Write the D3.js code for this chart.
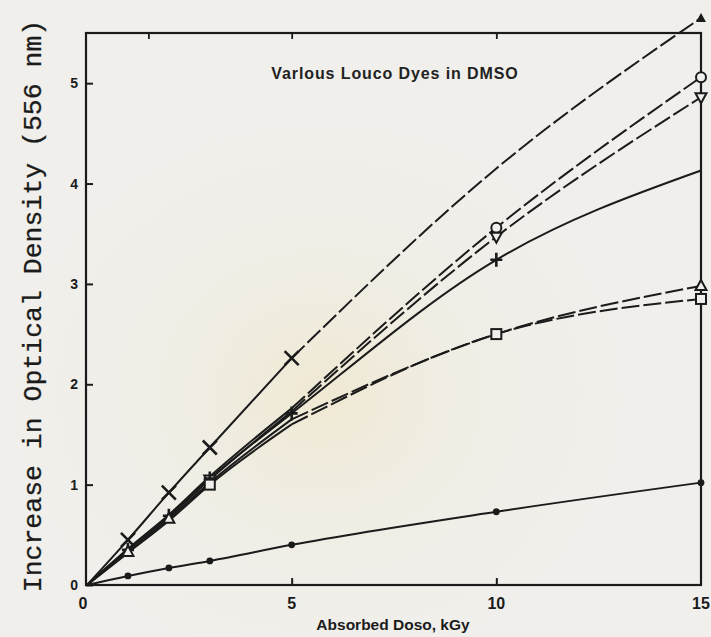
<!DOCTYPE html>
<html><head><meta charset="utf-8">
<script src="https://cdn.jsdelivr.net/npm/d3@7/dist/d3.min.js"></script>
<style>html,body{margin:0;padding:0;background:#f0efeb;}svg{display:block;}</style>
</head><body>
<svg id="chart" width="711" height="637"></svg>
<script>
// ---- data ----
const doses = [0, 1, 2, 3, 5, 10, 15];
const crossVals   = [0, 0.45, 0.92, 1.37, 2.26, 4.15, 5.65];
const circleVals  = [0, 0.36, 0.70, 1.08, 1.76, 3.56, 5.06];
const invTriVals  = [0, 0.35, 0.68, 1.05, 1.73, 3.47, 4.86];
const plusVals    = [0, 0.35, 0.69, 1.06, 1.71, 3.24, 4.13];
const triVals     = [0, 0.33, 0.66, 1.02, 1.65, 2.50, 2.98];
const squareVals  = [0, 0.32, 0.64, 1.00, 1.60, 2.50, 2.85];
const dotVals     = [0, 0.09, 0.17, 0.24, 0.40, 0.73, 1.02];
const xTicks = [0, 5, 10, 15];
const yTicks = [0, 1, 2, 3, 4, 5];
const titleText = "Varlous Louco Dyes in DMSO";
const xTitle = "Absorbed Doso, kGy";
const yTitle = "Increase in Optical Density (556 nm)";

const series = [
  {vals: crossVals,  sym: "cross",  marks: [1,2,3,4], endMark: "arrow", dashAfter: true},
  {vals: circleVals, sym: "circle", marks: [5,6], dashAfter: true},
  {vals: invTriVals, sym: "invtri", marks: [3,5,6], dashAfter: true},
  {vals: plusVals,   sym: "plus",   marks: [1,2,3,4,5], dashAfter: false},
  {vals: triVals,    sym: "tri",    marks: [1,2,6], dashAfter: true},
  {vals: squareVals, sym: "square", marks: [3,5,6], dashAfter: true},
  {vals: dotVals,    sym: "dot",    marks: [1,2,3,4,5,6], dashAfter: false}
];

const svg = d3.select("#chart");
const ink = "#1b1b1b";

// paper + faint watermark
const defs = svg.append("defs");
const rg = defs.append("radialGradient").attr("id","wm").attr("cx","0.45").attr("cy","0.62").attr("r","0.45");
rg.append("stop").attr("offset","0").attr("stop-color","#efe3bf").attr("stop-opacity",0.55);
rg.append("stop").attr("offset","1").attr("stop-color","#f0efeb").attr("stop-opacity",0);
svg.append("rect").attr("width",711).attr("height",637).attr("fill","#f0efeb");
svg.append("rect").attr("width",711).attr("height",637).attr("fill","url(#wm)");

const x = d3.scaleLinear().domain([0, 15]).range([87, 701]);
const y = d3.scaleLinear().domain([0, 5.5]).range([585, 33]);

// frame
const g = svg.append("g");
g.append("rect").attr("x", x(0) - 1).attr("y", y(5.5)).attr("width", x(15) - x(0) + 1).attr("height", y(0) - y(5.5))
  .attr("fill","none").attr("stroke",ink).attr("stroke-width",2.2);

// axes via d3 axis generators
const yAxis = d3.axisRight(y).tickValues(yTicks).tickSize(7).tickFormat("");
g.append("g").attr("transform",`translate(${x(0)-1},0)`).call(yAxis)
  .call(s => { s.select(".domain").remove(); s.selectAll("line").attr("stroke",ink).attr("stroke-width",2); });
g.selectAll(".ylab").data(yTicks).join("text")
  .attr("x", x(0) - 9).attr("y", d => y(d) + 5).attr("text-anchor","end")
  .attr("font-family","Liberation Sans, Arial, sans-serif").attr("font-weight","bold").attr("font-size",14)
  .attr("fill",ink).text(d => d === 0 ? "0" : d);

const xAxis = d3.axisTop(x).tickValues([5, 10]).tickSize(7).tickFormat("");
g.append("g").attr("transform",`translate(0,${y(0)})`).call(xAxis)
  .call(s => { s.select(".domain").remove(); s.selectAll("line").attr("stroke",ink).attr("stroke-width",2); });
const xTopAxis = d3.axisBottom(x).tickValues([1.5, 5, 10]).tickSize(6).tickFormat("");
g.append("g").attr("transform",`translate(0,${y(5.5)})`).call(xTopAxis)
  .call(s => { s.select(".domain").remove(); s.selectAll("line").attr("stroke",ink).attr("stroke-width",1.8); });
g.selectAll(".xlab").data(xTicks).join("text")
  .attr("x", d => x(d) + (d === 0 ? -4 : 0)).attr("y", y(0) + 24).attr("text-anchor","middle")
  .attr("font-family","Liberation Sans, Arial, sans-serif").attr("font-weight","bold").attr("font-size",16)
  .attr("fill",ink).text(d => d);

// titles
svg.append("text").attr("x", 393).attr("y", 630).attr("text-anchor","middle")
  .attr("font-family","Liberation Sans, Arial, sans-serif").attr("font-weight","bold").attr("font-size",15.5)
  .attr("fill",ink).text(xTitle);
svg.append("text").attr("x", 395).attr("y", 79).attr("text-anchor","middle")
  .attr("font-family","Liberation Sans, Arial, sans-serif").attr("font-weight","bold").attr("font-size",16)
  .attr("letter-spacing",0.9)
  .attr("fill","#222").text(titleText);
svg.append("text").attr("transform","translate(41,306) rotate(-90)").attr("text-anchor","middle")
  .attr("font-family","Liberation Mono, DejaVu Sans Mono, monospace").attr("font-size",26.5)
  .attr("fill",ink).attr("stroke",ink).attr("stroke-width",0.3).text(yTitle);

// curves
const line = d3.line().x(d => x(d[0])).y(d => y(d[1])).curve(d3.curveMonotoneX);
series.forEach(s => {
  const pts = doses.map((d, i) => [d, s.vals[i]]);
  if (s.dashAfter) {
    g.append("path").attr("d", line(pts.slice(0, 5))).attr("fill","none").attr("stroke",ink).attr("stroke-width",2);
    g.append("path").attr("d", line(pts.slice(4))).attr("fill","none").attr("stroke",ink).attr("stroke-width",2)
      .attr("stroke-dasharray","18,4");
  } else {
    g.append("path").attr("d", line(pts)).attr("fill","none").attr("stroke",ink).attr("stroke-width",2);
  }
});

// markers
function drawMarker(sym, cx, cy) {
  const m = g.append("g").attr("transform",`translate(${cx},${cy})`);
  const st = sel => sel.attr("fill","#f0efeb").attr("stroke",ink).attr("stroke-width",2);
  if (sym === "circle") st(m.append("circle").attr("r",5));
  else if (sym === "square") st(m.append("rect").attr("x",-5).attr("y",-5).attr("width",10).attr("height",10));
  else if (sym === "tri") st(m.append("path").attr("d","M0,-6L5.5,4L-5.5,4Z"));
  else if (sym === "invtri") st(m.append("path").attr("d","M0,6L5.5,-4L-5.5,-4Z"));
  else if (sym === "cross") m.append("path").attr("d","M-7,-7L7,7M-7,7L7,-7").attr("stroke",ink).attr("stroke-width",2.6);
  else if (sym === "plus") m.append("path").attr("d","M-6,0L6,0M0,-7L0,7").attr("stroke",ink).attr("stroke-width",2.6);
  else if (sym === "dot") m.append("circle").attr("r",3.4).attr("fill",ink);
  else if (sym === "arrow") m.append("path").attr("d","M0,-5L5,4L-5,4Z").attr("fill",ink);
}
series.forEach(s => {
  s.marks.forEach(i => {
    drawMarker(s.sym, x(doses[i]), y(s.vals[i]));
  });
  if (s.endMark) drawMarker(s.endMark, x(doses[6]), y(s.vals[6]));
});
</script>
</body></html>
